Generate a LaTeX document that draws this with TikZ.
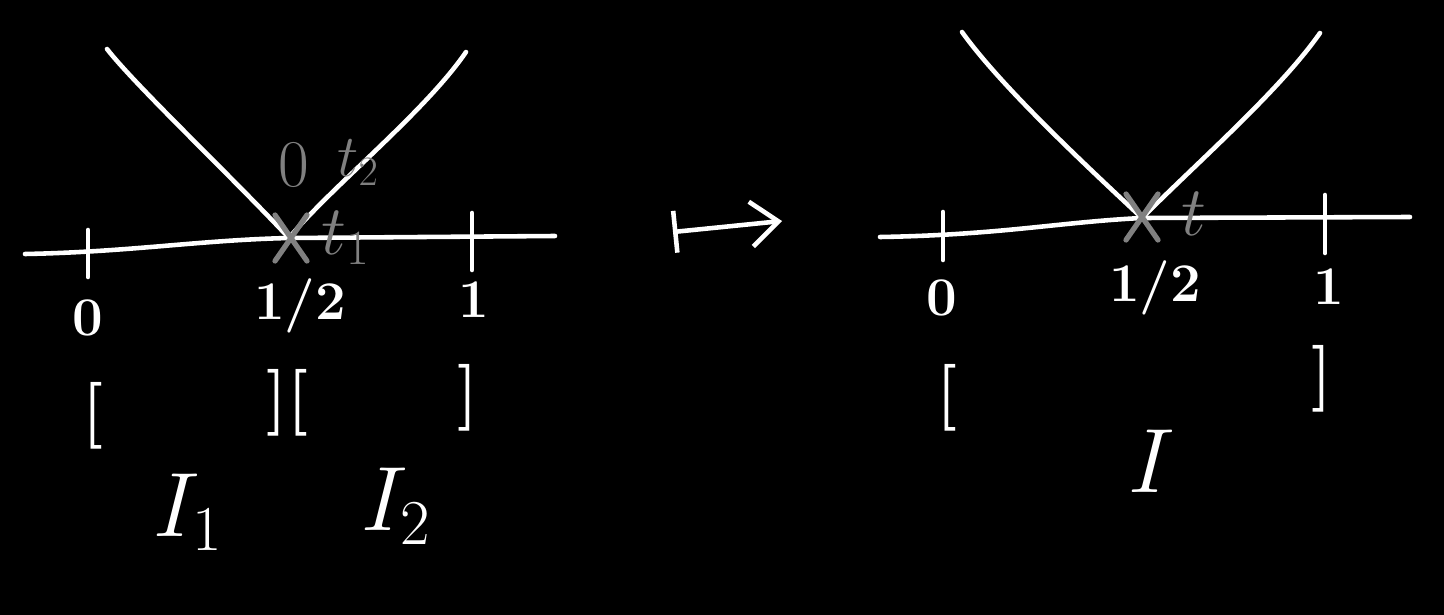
\RequirePackage{fix-cm}
\documentclass[tikz,border=0pt]{standalone}
\usepackage{amsmath,amssymb}
\usepackage{tikz}
\usetikzlibrary{positioning,arrows.meta}

\begin{document}
\begin{tikzpicture}[
  x=0.02cm, y=-0.02cm,
  every node/.style={font=\fontsize{31}{34}\selectfont\bfseries, text=white, inner sep=0pt},
  chalk/.style={draw=white, line width=2.6pt, line cap=round},
  pencil/.style={draw=black!50!white, line width=3pt, line cap=round},
  grey/.style={text=black!50!white},
  brk/.style={font=\fontsize{38}{42}\selectfont\bfseries},
  big/.style={font=\fontsize{52}{56}\selectfont},
  tlab/.style={grey, font=\fontsize{40}{44}\selectfont}
]
\fill[black] (0,0) rectangle (1444,615);

% left picture: two pieces I_1, I_2
\coordinate (lA) at (25,254);
\coordinate (lB) at (555,236);
\coordinate (lH) at (289,238);
\draw[chalk] (lA) .. controls (130,252) and (200,240) .. (lH) -- (lB);
\draw[chalk] (88,230) -- (88,277);
\draw[chalk] (472,213) -- (472,270);
\draw[chalk] (107,49) .. controls (135,85) and (230,175) .. (lH);
\draw[chalk] (lH) .. controls (330,188) and (425,112) .. (466,52);
\draw[pencil] (275,215) -- (307,261) (307,215) -- (275,261);
\node[grey, font=\fontsize{38}{40}\selectfont] (lo) at (294,165) {0};
\node[grey, font=\fontsize{34}{36}\selectfont] (lt2) at (358,163) {$t_2$};
\node[tlab] (lt1) at (346,238) {$t_1$};
\node (l0) at (88,318) {0};
\node (lhalf) at (300,306) {1/2};
\node (l1) at (474,300) {1};
\node[brk] (lbl) at (93,416) {[};
\node[brk] (lmid) at (287,403) {][};
\node[brk] (lbr) at (468,398) {]};
\node[big] (I1) at (188,512) {$I_1$};
\node[big] (I2) at (396,506) {$I_2$};

% maps to
\coordinate (mA) at (673,232);
\coordinate (mB) at (782,221);
\draw[chalk, {Bar[width=0.84cm]}-{Straight Barb[length=0.55cm,width=0.9cm]}] (mA) -- (mB);

% right picture: one interval I
\coordinate (rA) at (880,237);
\coordinate (rB) at (1410,217);
\coordinate (rH) at (1142,218);
\draw[chalk] (rA) .. controls (1000,235) and (1060,222) .. (rH) -- (rB);
\draw[chalk] (943,212) -- (943,260);
\draw[chalk] (1325,195) -- (1325,253);
\draw[chalk] (962,32) .. controls (1000,85) and (1080,160) .. (rH);
\draw[chalk] (rH) .. controls (1200,160) and (1280,90) .. (1320,33);
\draw[pencil] (1126,194) -- (1158,240) (1158,194) -- (1126,240);
\node[tlab] (rt) at (1194,214) {$t$};
\node (r0) at (942,298) {0};
\node (rhalf) at (1155,288) {1/2};
\node (r1) at (1329,287) {1};
\node[brk] (rbl) at (947,398) {[};
\node[brk] (rbr) at (1322,379) {]};
\node[big] (I) at (1152,461) {$I$};
\end{tikzpicture}
\end{document}
